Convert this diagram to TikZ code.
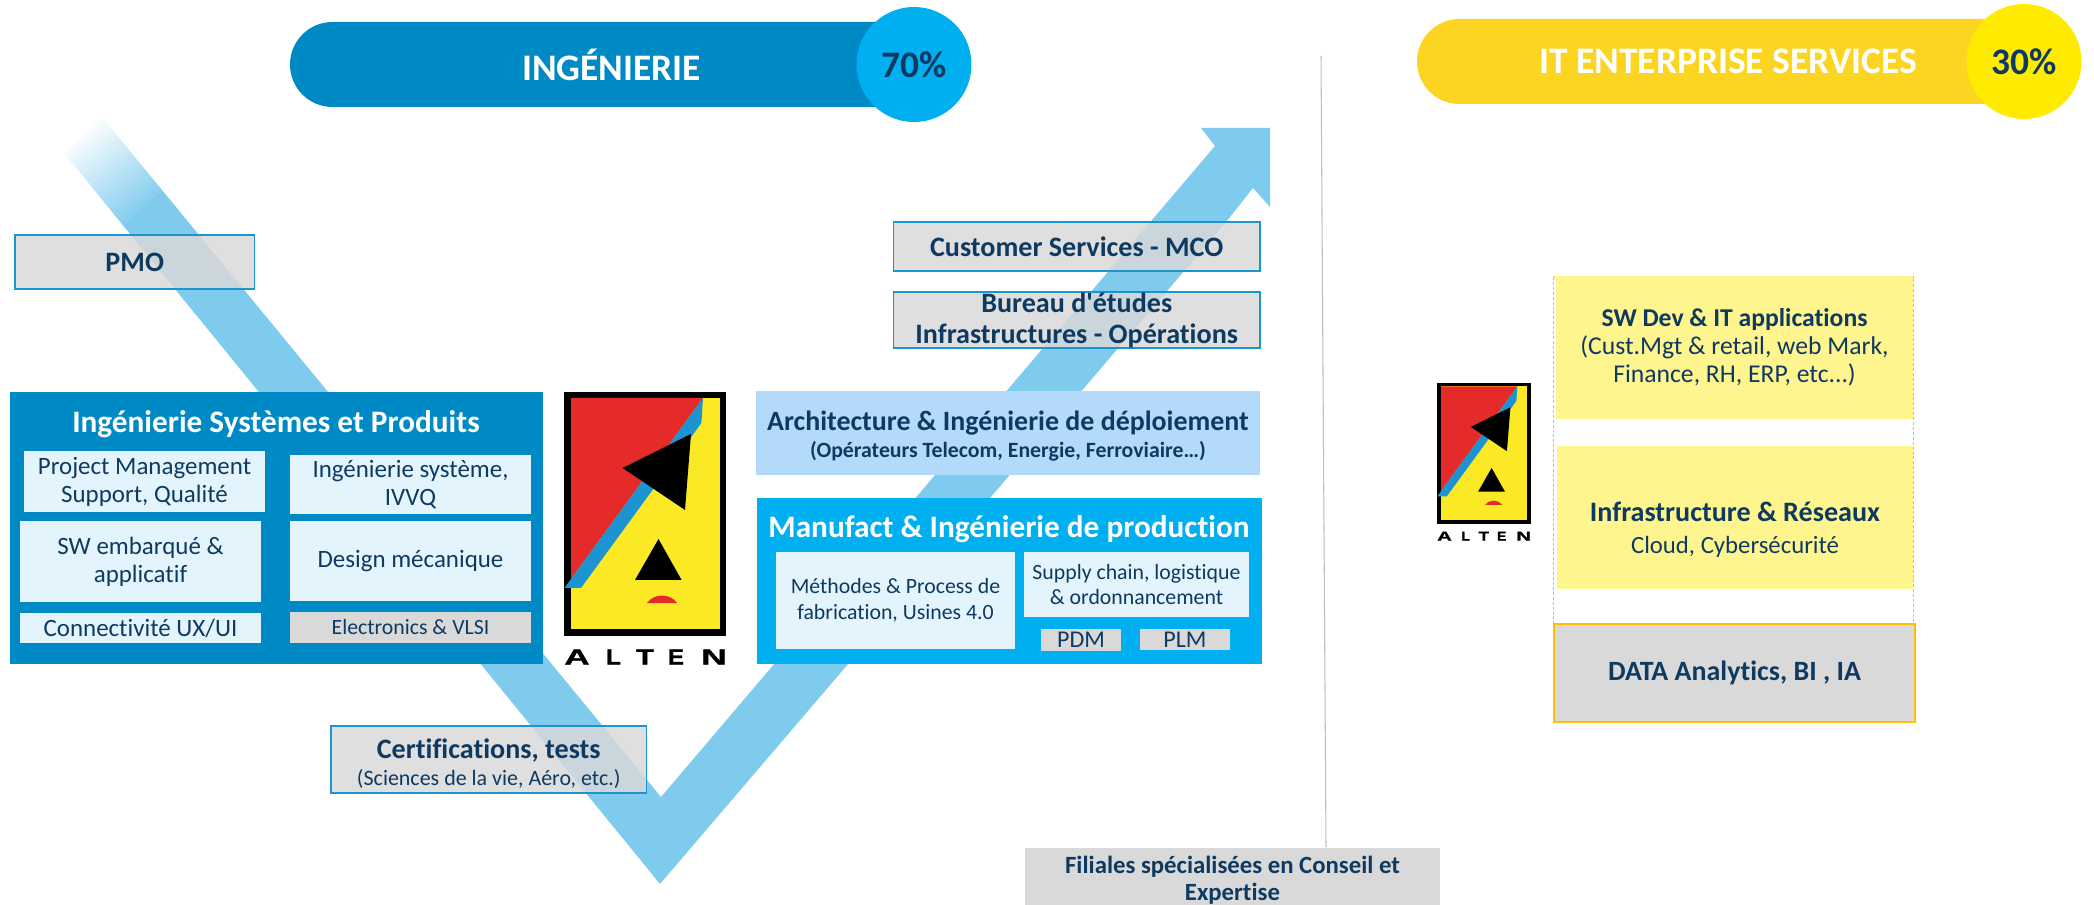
\documentclass[tikz,border=0pt]{standalone}
\usepackage{fontspec}
\setmainfont[Ligatures={CommonOff,TeXOff}]{Carlito}
\newfontfamily\logofont[BoldFeatures={FakeBold=1}]{Liberation Sans}
\usetikzlibrary{positioning}
\definecolor{armblue}{HTML}{7FCBEE}
\definecolor{navytext}{HTML}{0E3A62}
\definecolor{ingblue}{HTML}{008AC5}
\definecolor{skyblue}{HTML}{00AFF0}
\definecolor{paleblue}{HTML}{E3F4FC}
\definecolor{lightblue}{HTML}{B3DAFA}
\definecolor{edgeblue}{HTML}{1C94CF}
\definecolor{itgold}{HTML}{FCD422}
\definecolor{itlemon}{HTML}{FFEB00}
\definecolor{paleyellow}{HTML}{FFF58F}
\definecolor{dataedge}{HTML}{FFC000}
\definecolor{softgrey}{HTML}{D9D9D9}
\definecolor{logored}{HTML}{E52A2A}
\definecolor{logoyellow}{HTML}{FBE925}
\definecolor{logoblue}{HTML}{1C94D2}
\tikzset{
	boxsize/.style 2 args={minimum width=#1*0.02cm, minimum height=#2*0.02cm, inner sep=0pt, align=center},
	panel/.style={fill=#1, text=navytext, font=\fontsize{14.2}{16}\selectfont},
	overbox/.style={fill=softgrey, fill opacity=0.85, text opacity=1, draw=edgeblue, line width=0.8pt, text=navytext, font=\fontsize{16}{17.5}\selectfont},
	pill/.style={fill=#1, rounded corners=0.85cm, text=white, font=\fontsize{21.3}{25}\bfseries\selectfont},
	share/.style={circle, fill=#1, minimum size=2.3cm, inner sep=0pt, text=navytext, font=\fontsize{21.3}{25}\bfseries\selectfont},
	titletext/.style={text=white, font=\fontsize{17.8}{21}\bfseries\selectfont},
	smallpanel/.style={font=\fontsize{12.4}{14.6}\selectfont},
	boxtext/.style={text=navytext, align=center, inner sep=0pt},
}
\def\altenlogo#1(#2,#3)#4{
	\begin{scope}[shift={(#2,#3)}, scale=#4]
		\fill[black] (0, 0) rectangle (162, 244);
		\fill[logoyellow] (7, 6) rectangle (156, 237);
		\fill[logored] (7, 6) -- (139, 6) -- (7, 187) -- cycle;
		\fill[logoblue] (139, 6) -- (137.4, 31) -- (17, 196) -- (0.5, 196) -- cycle;
		\fill[black] (58.6, 76) -- (127, 42) -- (121, 118) -- cycle;
		\fill[black] (94.5, 147) -- (71, 188) -- (117.6, 188) -- cycle;
		\fill[logored] (83, 211) .. controls (90, 201) and (106, 201) .. (113, 211) -- cycle;
		\foreach \letter/\pos/\wide in {A/13/1.6, L/49.5/1.1, T/81/1.35, E/112/1.1, N/150/1.6}
			\node[transform shape, xscale=\wide, inner sep=0pt] (#1\letter) at (\pos, 265) {\logofont\fontsize{12.5}{12.5}\bfseries\selectfont \letter};
	\end{scope}
}

\begin{document}
\begin{tikzpicture}[x=0.02cm, y=-0.02cm]
		\useasboundingbox (0, 0) rectangle (2094, 905);
		%%%%% V ARROW %%%%%
		\path[shade, top color=white, middle color=armblue, bottom color=armblue, shading angle=39] (102, 117) -- (64, 153) -- (122.7, 225) -- (162, 190) -- cycle;
		\fill[armblue] (162, 190) -- (661, 797) -- (1215, 146) -- (1201, 128) -- (1270, 128) -- (1270, 207) -- (1253, 188) -- (1226, 222) -- (660, 884) -- (122.7, 225) -- cycle;
		
		%%%%% INGENIERIE %%%%%
		\node[pill=ingblue, boxsize={643}{85}] (ingenierie) at (611.5, 64.5) {INGÉNIERIE};
		\node[share=skyblue] (ingshare) at (914, 64.5) {70\%};
		
		\node[overbox, boxsize={239.5}{54}] (pmo) at (134.75, 262) {\textbf{PMO}};
		\node[overbox, boxsize={366.5}{49}] (customer) at (1076.75, 246.5) {\textbf{Customer Services - MCO}};
		\node[overbox, boxsize={366.5}{56}] (bureau) at (1076.75, 320) {\textbf{Bureau d'études}\\\textbf{Infrastructures - Opérations}};
		\node[overbox, boxsize={315.5}{67}] (certif) at (488.75, 759.5) {};
		\node[boxtext, font=\fontsize{12.5}{15.2}\selectfont] (certiftext) at (488.75, 764) {{\fontsize{16}{15.2}\bfseries\selectfont Certifications, tests}\\(Sciences de la vie, Aéro, etc.)};
		
		%%%%% SYSTEMES ET PRODUITS %%%%%
		\node[fill=ingblue, boxsize={533}{272}] (systemes) at (276.5, 528) {};
		\node[titletext] (systitle) at (276, 424.5) {Ingénierie Systèmes et Produits};
		\node[panel=paleblue, boxsize={241}{61}] (project) at (144.5, 481.5) {Project Management\\Support, Qualité};
		\node[panel=paleblue, boxsize={241}{59}] (ivvq) at (410.5, 484.5) {Ingénierie système,\\IVVQ};
		\node[panel=paleblue, boxsize={241}{81}] (embarque) at (140.5, 561.5) {SW embarqué \&\\applicatif};
		\node[panel=paleblue, boxsize={241}{80}] (design) at (410.5, 561) {Design mécanique};
		\node[panel=paleblue, boxsize={241}{30}] (connect) at (140.5, 628) {Connectivité UX/UI};
		\node[panel=softgrey, boxsize={241}{31}, smallpanel] (vlsi) at (410.5, 627.5) {Electronics \& VLSI};
		
		\altenlogo{logoa}(564, 392){1}
		
		%%%%% DEPLOIEMENT ET PRODUCTION %%%%%
		\node[fill=lightblue, boxsize={504}{84}] (archi) at (1008, 433) {};
		\node[boxtext, font=\fontsize{12.4}{15.2}\bfseries\selectfont] (architext) at (1008, 435.7) {{\fontsize{15.9}{15.2}\bfseries\selectfont Architecture \& Ingénierie de déploiement}\\(Opérateurs Telecom, Energie, Ferroviaire…)};
		\node[fill=skyblue, boxsize={505}{166}] (manufact) at (1009.5, 581) {};
		\node[titletext] (mantitle) at (1009, 529.5) {Manufact \& Ingénierie de production};
		\node[panel=paleblue, boxsize={239}{97}, smallpanel] (methodes) at (895.5, 600.5) {Méthodes \& Process de\\fabrication, Usines 4.0};
		\node[panel=paleblue, boxsize={225}{65}, smallpanel] (supply) at (1136.5, 584.5) {Supply chain, logistique\\\& ordonnancement};
		\node[panel=softgrey, boxsize={80}{22}, font=\fontsize{13.7}{14}\selectfont] (pdm) at (1081, 640) {PDM};
		\node[panel=softgrey, boxsize={90}{21}, font=\fontsize{13.7}{14}\selectfont] (plm) at (1185, 639.5) {PLM};
		
		%%%%% SEPARATION %%%%%
		\node[fill=softgrey, boxsize={415}{58}] (filiales) at (1232.5, 876.5) {};
		\node[boxtext, font=\fontsize{14.1}{15.4}\bfseries\selectfont] (filialestext) at (1232.5, 880.5) {Filiales spécialisées en Conseil et\\Expertise};
		\coordinate (septop) at (1321, 56);
		\coordinate (sepend) at (1326, 847);
		\draw[line width=0.6pt, color=black!25] (septop) -- (sepend);
		
		%%%%% IT ENTERPRISE SERVICES %%%%%
		\node[pill=itgold, boxsize={622}{85}] (itservices) at (1728, 61.5) {IT ENTERPRISE SERVICES};
		\node[share=itlemon] (itshare) at (2024, 61.5) {30\%};
		
		\altenlogo{logob}(1437, 383){0.578}
		
		\draw[dash pattern=on 1.7pt off 1.1pt, line width=0.6pt, color=dataedge] (1553.5, 277) rectangle (1913.5, 722);
		\node[panel=paleyellow, boxsize={357}{143}, font=\fontsize{14.6}{16}\selectfont] (swdev) at (1734.5, 347.5) {{\fontsize{14.6}{16}\bfseries\selectfont SW Dev \& IT applications}\\(Cust.Mgt \& retail, web Mark,\\Finance, RH, ERP, etc...)};
		\node[fill=paleyellow, boxsize={356}{143}] (infra) at (1735, 517.5) {};
		\node[boxtext, font=\fontsize{14.1}{18.2}\selectfont] (infratext) at (1735, 529.7) {{\fontsize{16}{18.2}\bfseries\selectfont Infrastructure \& Réseaux}\\Cloud, Cybersécurité};
		\node[fill=softgrey, draw=dataedge, line width=1.1pt, boxsize={361}{98}, text=navytext, font=\fontsize{15.9}{18}\bfseries\selectfont] (data) at (1734.5, 673) {DATA Analytics, BI , IA};
\end{tikzpicture}
\end{document}
